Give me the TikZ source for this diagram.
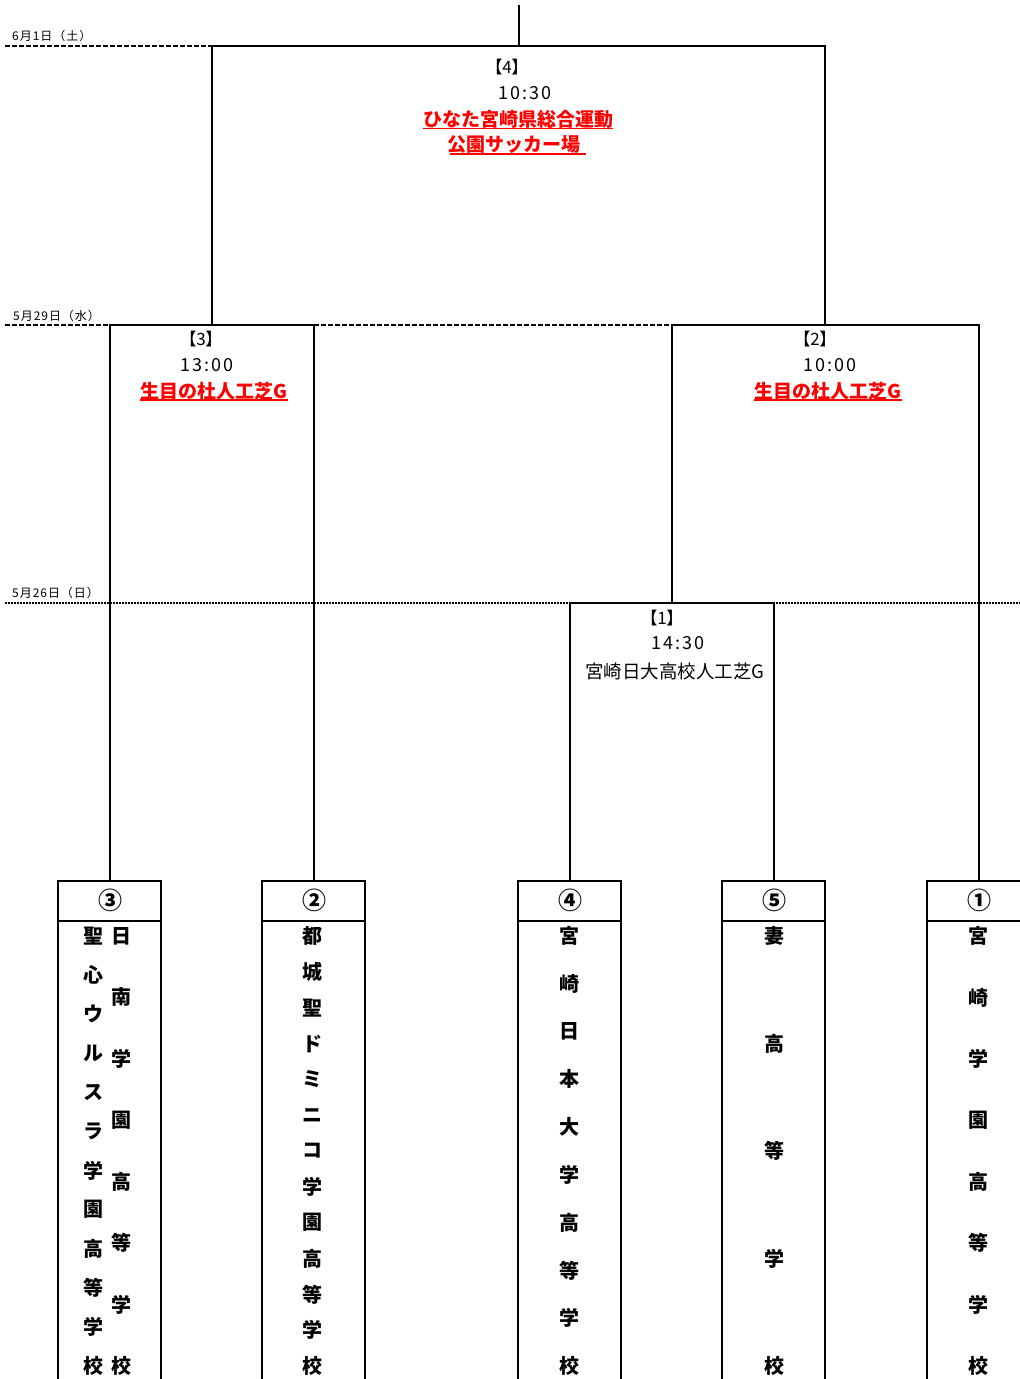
\documentclass[tikz,border=0pt]{standalone}
\usepackage{fontspec}
\setmainfont{Noto Sans CJK JP}

% one column of a team name, spread from top to bottom of the box
\newcommand\teamcol[4]{% x, number of chars, name, chars
  \foreach \ch [count=\i] in {#4}
    \node[team] (#3-\i) at (#1, {936+(\i-1)*430/(#2-1)}) {\ch};}

% team box with its seed number
\newcommand\teambox[3]{% x, name, number
  \draw[bracket] (#1-52,1379) |- (#1+51,881) -- (#1+51,1379);
  \draw[bracket] (#1-52,921) -- (#1+51,921);
  \node[seed] (#2) at (#1,900) {#3};}

\begin{document}
\begin{tikzpicture}[x=1pt, y=-1pt,
  bracket/.style={line width=2pt},
  dateline/.style={line width=1.5pt, dash pattern=on 5pt off 2pt},
  dayline/.style={line width=1.3pt, dash pattern=on 2pt off 1pt},
  date/.style={anchor=west, inner sep=0pt, font=\fontsize{12}{12}\selectfont\addfontfeatures{LetterSpace=8}},
  roundno/.style={inner sep=0pt, font=\fontsize{17}{17}\selectfont\addfontfeatures{RawFeature=+palt}},
  kickoff/.style={inner sep=0pt, font=\fontsize{18}{18}\selectfont\addfontfeatures{LetterSpace=10}},
  venue/.style={inner sep=0pt, text=red, font=\bfseries\fontsize{19}{19}\selectfont},
  ground/.style={inner sep=0pt, font=\fontsize{18.5}{18.5}\selectfont},
  uline/.style={red, line width=1.5pt},
  seed/.style={inner sep=0pt, font=\bfseries\fontsize{24}{24}\selectfont},
  team/.style={inner sep=0pt, font=\bfseries\fontsize{20}{20}\selectfont}]

\useasboundingbox (0,0) rectangle (1020,1379);
\clip (0,0) rectangle (1020,1379);

% draw date lines
\draw[dateline] (5,46) -- (212,46);
\draw[dateline] (5,325) -- (110,325);
\draw[dateline] (314,325) -- (672,325);
\draw[dayline] (5,603) -- (1020,603);
\node[date] (d3) at (12,36) {6月1日（土）};
\node[date] (d2) at (13,316) {5月29日（水）};
\node[date] (d1) at (12,593) {5月26日（日）};

% draw team boxes
\teambox{110}{s3}{③}
\teambox{314}{s2}{②}
\teambox{570}{s4}{④}
\teambox{774}{s5}{⑤}
\teambox{979}{s1}{①}

% team box tops and match points
\coordinate (b3) at (110,881);
\coordinate (b2) at (314,881);
\coordinate (b4) at (570,881);
\coordinate (b5) at (774,881);
\coordinate (b1) at (979,881);
\coordinate (m1) at (672,603);
\coordinate (m2) at (825,325);
\coordinate (m3) at (212,325);
\coordinate (m4) at (519,46);
\coordinate (top) at (519,5);

% draw brackets
\draw[bracket] (b4) |- (m1) -| (b5);
\draw[bracket] (m1) |- (m2) -| (b1);
\draw[bracket] (b3) |- (m3) -| (b2);
\draw[bracket] (m3) |- (m4) -| (m2);
\draw[bracket] (m4) -- (top);

% draw match labels
\node[roundno] (r4) at (507,67) {【4】};
\node[kickoff] (k4) at (525,93) {10:30};
\node[venue] (v4a) at (518,119) {ひなた宮崎県総合運動};
\node[venue] (v4b) at (514,145) {公園サッカー場};
\draw[uline] (v4a.south west) -- (v4a.south east);
\draw[uline] ([xshift=3pt]v4b.south west) -- ([xshift=5pt]v4b.south east);

\node[roundno] (r3) at (201,339) {【3】};
\node[kickoff] (k3) at (207,365) {13:00};
\node[venue] (v3) at (214,391) {生目の杜人工芝G};
\draw[uline] (v3.south west) -- (v3.south east);

\node[roundno] (r2) at (815,339) {【2】};
\node[kickoff] (k2) at (830,365) {10:00};
\node[venue] (v2) at (828,391) {生目の杜人工芝G};
\draw[uline] (v2.south west) -- (v2.south east);

\node[roundno] (r1) at (662,618) {【1】};
\node[kickoff] (k1) at (678,643) {14:30};
\node[ground] (g1) at (675,671) {宮崎日大高校人工芝G};

% draw team names
\teamcol{121}{8}{t3a}{日,南,学,園,高,等,学,校}
\teamcol{93}{12}{t3b}{聖,心,ウ,ル,ス,ラ,学,園,高,等,学,校}
\teamcol{312}{13}{t2}{都,城,聖,ド,ミ,ニ,コ,学,園,高,等,学,校}
\teamcol{569}{10}{t4}{宮,崎,日,本,大,学,高,等,学,校}
\teamcol{774}{5}{t5}{妻,高,等,学,校}
\teamcol{978}{8}{t1}{宮,崎,学,園,高,等,学,校}

\end{tikzpicture}
\end{document}
